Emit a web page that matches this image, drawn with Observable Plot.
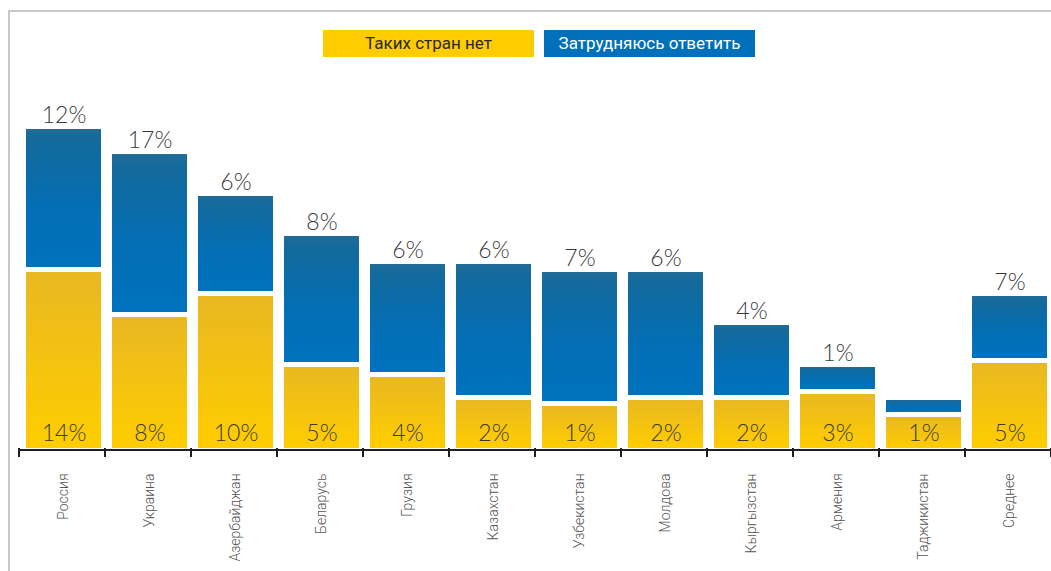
<!DOCTYPE html>
<html><head><meta charset="utf-8">
<script src="https://cdn.jsdelivr.net/npm/d3@7"></script>
<script src="https://cdn.jsdelivr.net/npm/@observablehq/plot@0.6"></script>
<style>
body{margin:0;background:#fff;}
#wrap{position:relative;width:1051px;height:571px;overflow:hidden;background:#fff;}
#frame{position:absolute;left:8px;top:10px;width:1100px;height:600px;border-top:2px solid #c8c8c8;border-left:2px solid #c8c8c8;box-sizing:border-box;}
#chart{position:absolute;left:0;top:0;}
.lg{position:absolute;top:30px;height:27px;width:211px;font-family:Roboto,"Liberation Sans",sans-serif;font-weight:400;font-size:17px;line-height:27px;text-align:center;}
</style></head>
<body><div id="wrap"><div id="frame"></div><div id="chart"></div><div id="legend"></div></div>
<script>
// Categories (countries)
const categories = ["Россия","Украина","Азербайджан","Беларусь","Грузия","Казахстан","Узбекистан","Молдова","Кыргызстан","Армения","Таджикистан","Среднее"];
// Bar segment heights as drawn in the picture (relative units)
const noCountries = [17.6, 13.1, 15.2, 8.1, 7.1, 4.8, 4.2, 4.8, 4.8, 5.4, 3.1, 8.5];
const hardToSay   = [14.3, 16.3, 10.0, 13.1, 11.3, 13.6, 13.4, 12.8, 7.5, 2.7, 1.7, 6.7];
// Printed value labels (Tajikistan has no label above its bar)
const noCountriesLabels = ["14%","8%","10%","5%","4%","2%","1%","2%","2%","3%","1%","5%"];
const hardToSayLabels   = ["12%","17%","6%","8%","6%","6%","7%","6%","4%","1%","","7%"];
// Series names
const seriesNames = ["Таких стран нет","Затрудняюсь ответить"];
const seriesColors = ["#ffcc00","#0070ba"];

const data = categories.map((c,i)=>({cat:c, a:noCountries[i], b:hardToSay[i], la:noCountriesLabels[i], lb:hardToSayLabels[i]}));

const defs = () => {
  const s = d3.create("svg:defs");
  const gy = s.append("linearGradient").attr("id","gradY").attr("x1",0).attr("y1",0).attr("x2",0).attr("y2",1);
  gy.append("stop").attr("offset","0%").attr("stop-color","#e8b822");
  gy.append("stop").attr("offset","100%").attr("stop-color","#ffcd00");
  const gb = s.append("linearGradient").attr("id","gradB").attr("x1",0).attr("y1",0).attr("x2",0).attr("y2",1);
  gb.append("stop").attr("offset","0%").attr("stop-color","#226c98");
  gb.append("stop").attr("offset","8%").attr("stop-color","#146a9c");
  gb.append("stop").attr("offset","60%").attr("stop-color","#036fb6");
  gb.append("stop").attr("offset","100%").attr("stop-color","#0072bd");
  return s.node();
};

function boundaryTicks(index, scales, values, dim) {
  const x = scales.x;
  const r = x.range ? x.range() : [dim.marginLeft, dim.width - dim.marginRight];
  const n = categories.length;
  const step = (r[1]-r[0])/n;
  const y0 = dim.height - dim.marginBottom;
  const g = d3.create("svg:g");
  for (let i=0;i<=n;i++){
    const v = r[0] + i*step;
    g.append("line").attr("x1",v).attr("x2",v).attr("y1",y0).attr("y2",y0+9)
      .attr("stroke","#231f20").attr("stroke-width",2);
  }
  return g.node();
}

const chart = Plot.plot({
  width: 1051,
  height: 571,
  marginLeft: 19,
  marginRight: 0,
  marginTop: 98,
  marginBottom: 123,
  x: {domain: categories, paddingInner: 11/86, paddingOuter: 11/172, align: 7/11, axis: null},
  y: {domain: [0, 35], axis: null},
  style: {background: "transparent", overflow: "visible"},
  marks: [
    defs,
    Plot.barY(data, {x: "cat", y1: 0, y2: "a", fill: "url(#gradY)"}),
    Plot.barY(data, {x: "cat", y1: "a", y2: d => d.a + d.b, insetBottom: 5, fill: "url(#gradB)"}),
    Plot.ruleY([0], {dy: 1.5, stroke: "#231f20", strokeWidth: 2}),
    boundaryTicks,
    Plot.text(data, {x: "cat", y: d => d.a + d.b, text: "lb", dy: -7, lineAnchor: "bottom",
      fontSize: 23, fontFamily: "Lato, 'Open Sans', sans-serif", fontWeight: 300, fill: "#3a3a3a"}),
    Plot.text(data, {x: "cat", y: 0, text: "la", dy: -8, lineAnchor: "bottom",
      fontSize: 23, fontFamily: "Lato, 'Open Sans', sans-serif", fontWeight: 300, fill: "#3a3a3a"}),
    Plot.axisX({tickRotate: -90, tickSize: 0, tickPadding: 25, fontSize: 14, fontFamily: "Roboto, sans-serif", fontWeight: 300, color: "#555", label: null})
  ]
});
document.getElementById("chart").appendChild(chart);

const lg = document.getElementById("legend");
const lpos = [323, 544];
seriesNames.forEach((n,i)=>{
  const d = document.createElement("div");
  d.className = "lg";
  d.style.left = lpos[i] + "px";
  d.style.background = seriesColors[i];
  d.style.color = i === 0 ? "#2a2a2a" : "#fff";
  d.textContent = n;
  lg.appendChild(d);
});
</script>
</body></html>
